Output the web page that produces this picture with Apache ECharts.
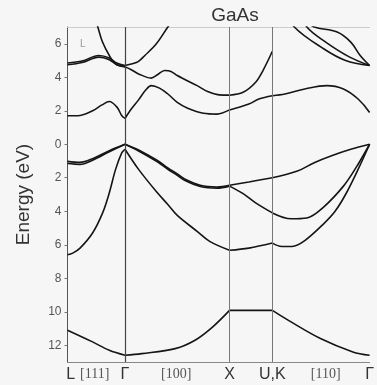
<!DOCTYPE html>
<html>
<head>
<meta charset="utf-8">
<script src="https://cdn.jsdelivr.net/npm/echarts@6/dist/echarts.min.js"></script>
<style>
  html, body { margin: 0; padding: 0; background: #f6f6f6; }
  #chart { width: 377px; height: 385px; }
</style>
</head>
<body>
<div id="chart"></div>
<script>
// k positions along the path L - Γ - X - U,K - Γ
var kTicks = [0.03, 0.26, 0.55, 1.04, 1.55, 1.96, 2.47, 2.89];
var kLabels = ['L', '[111]', 'Γ', '[100]', 'X', 'U,K', '[110]', 'Γ'];
var symPoints = [0.55, 1.55, 1.96];
var energyTicks = [-12, -10, -8, -6, -4, -2, 0, 2, 4, 6];

// bands, [k, energy eV]
var bandS = [[0,-11.1],[0.24,-11.8],[0.40,-12.3],[0.55,-12.6],[0.71,-12.5],[1.03,-12.2],[1.22,-11.7],[1.39,-10.9],[1.55,-9.92],
  [1.96,-9.92],[2.11,-10.5],[2.42,-11.6],[2.73,-12.4],[2.89,-12.6]];
var bandV1 = [[0,-6.6],[0.05,-6.5],[0.12,-6.2],[0.24,-5.3],[0.336,-4.1],[0.40,-2.9],[0.46,-1.5],[0.52,-0.5],[0.55,-0.3],
  [0.68,-1.5],[0.86,-2.9],[0.96,-3.6],[1.05,-4.25],[1.24,-5.2],[1.36,-5.8],[1.55,-6.33],
  [1.735,-6.2],[1.96,-5.9],[2.05,-6.1],[2.15,-6.1],[2.27,-5.75],[2.45,-4.75],[2.56,-4.0],[2.66,-3.0],[2.78,-1.5],[2.89,0]];
var bandV2 = [[0,-1.15],[0.12,-1.2],[0.24,-0.95],[0.40,-0.45],[0.55,0],
  [0.68,-0.4],[0.86,-1.05],[0.96,-1.5],[1.05,-1.85],[1.12,-2.15],[1.27,-2.52],[1.43,-2.62],[1.55,-2.5],
  [1.68,-2.95],[1.80,-3.5],[1.96,-4.1],[2.14,-4.45],[2.29,-4.4],[2.45,-3.75],[2.64,-2.5],[2.76,-1.4],[2.89,0]];
var bandV3 = [[0,-1.02],[0.12,-1.08],[0.24,-0.86],[0.40,-0.38],[0.55,0],
  [0.68,-0.34],[0.86,-0.97],[0.96,-1.42],[1.05,-1.77],[1.12,-2.07],[1.27,-2.45],[1.43,-2.55],[1.55,-2.45],
  [1.735,-2.25],[1.96,-2.0],[2.20,-1.6],[2.36,-1.1],[2.52,-0.7],[2.71,-0.3],[2.89,0]];
var bandC1 = [[0,1.7],[0.12,1.72],[0.24,2.0],[0.33,2.35],[0.40,2.55],[0.475,2.2],[0.52,1.7],[0.55,1.54],
  [0.61,2.1],[0.68,2.65],[0.75,3.25],[0.80,3.5],[0.88,3.35],[0.96,3.0],[1.05,2.5],[1.15,2.15],[1.30,1.85],[1.43,1.8],[1.55,2.05],
  [1.735,2.4],[1.83,2.7],[1.96,2.9],[2.08,3.0],[2.27,3.3],[2.48,3.5],[2.64,3.3],[2.78,2.7],[2.89,1.9]];
var bandC2 = [[0,4.75],[0.14,4.88],[0.30,5.2],[0.40,5.05],[0.47,4.75],[0.55,4.62],
  [0.61,4.45],[0.68,4.2],[0.80,3.95],[0.86,4.15],[0.93,4.4],[0.99,4.35],[1.05,4.1],[1.24,3.5],[1.34,3.15],[1.45,2.95],[1.55,2.93],
  [1.68,3.1],[1.80,3.7],[1.87,4.4],[1.96,5.55]];
var bandC3 = [[0,4.85],[0.14,4.97],[0.30,5.3],[0.40,5.15],[0.47,4.85],[0.55,4.7],
  [0.62,4.8],[0.68,4.95],[0.74,5.3],[0.85,6.0],[0.96,7.0],[1.02,7.5]];
var bandC4 = [[0.26,7.6],[0.29,7.0],[0.335,6.1],[0.40,5.3],[0.46,4.8],[0.55,4.65]];
var bandCA = [[2.10,8.0],[2.17,7.0],[2.45,5.7],[2.66,5.0],[2.89,4.7]];
var bandCB = [[2.22,8.0],[2.29,7.0],[2.47,6.1],[2.70,5.2],[2.89,4.7]];
var bandCC = [[2.30,7.3],[2.36,7.0],[2.58,6.7],[2.71,6.1],[2.80,5.3],[2.89,4.7]];

var bands = [bandS, bandV1, bandV2, bandV3, bandC1, bandC2, bandC3, bandC4, bandCA, bandCB, bandCC];

// cut each band at the symmetry points so the smoothing keeps the kinks
function splitBand(pts) {
  var segs = [], cur = [];
  for (var i = 0; i < pts.length; i++) {
    cur.push(pts[i]);
    if (i > 0 && i < pts.length - 1 && symPoints.indexOf(pts[i][0]) >= 0) {
      segs.push(cur);
      cur = [pts[i]];
    }
  }
  segs.push(cur);
  return segs;
}

var series = [];
bands.forEach(function (b) {
  splitBand(b).forEach(function (seg) {
    series.push({
      type: 'line',
      data: seg,
      smooth: 0.35,
      symbol: 'none',
      silent: true,
      lineStyle: { color: '#151515', width: 1.6 }
    });
  });
});
series[0].markLine = {
  symbol: 'none',
  silent: true,
  label: { show: false },
  lineStyle: { color: '#777', width: 1, type: 'solid' },
  data: [
    { xAxis: symPoints[0], lineStyle: { color: '#444', width: 1.2, type: 'solid' } },
    { xAxis: symPoints[1] },
    { xAxis: symPoints[2] }
  ]
};

var chart = echarts.init(document.getElementById('chart'));
chart.setOption({
  backgroundColor: '#f6f6f6',
  animation: false,
  title: {
    text: 'GaAs',
    left: 230,
    top: 1,
    textAlign: 'center',
    textStyle: { fontFamily: 'Liberation Sans', fontSize: 19, fontWeight: 'normal', color: '#333' }
  },
  graphic: [{
    type: 'text', left: 80, top: 39,
    style: { text: 'L', font: '10px Liberation Sans', fill: '#999' }
  }],
  grid: { left: 67.5, right: 0, top: 27, bottom: 23 },
  xAxis: [{
    type: 'value',
    min: 0,
    max: 2.89,
    splitLine: { show: false },
    axisLine: { onZero: false, lineStyle: { color: '#888' } },
    axisTick: { show: false },
    axisLabel: {
      customValues: kTicks,
      margin: 5,
      color: '#333',
      fontFamily: 'Liberation Sans',
      fontSize: 16,
      formatter: function (v) {
        var i = kTicks.indexOf(v);
        var t = i >= 0 ? kLabels[i] : '';
        return t.charAt(0) === '[' ? '{b|' + t + '}' : t;
      },
      rich: { b: { fontFamily: 'Liberation Serif', fontSize: 14, color: '#555' } }
    }
  }, {
    type: 'value',
    position: 'top',
    min: 0,
    max: 2.89,
    splitLine: { show: false },
    axisLine: { show: true, onZero: false, lineStyle: { color: '#ccc' } },
    axisTick: { show: false },
    axisLabel: { show: false }
  }],
  yAxis: {
    type: 'value',
    min: -13,
    max: 7,
    name: 'Energy (eV)',
    nameLocation: 'middle',
    nameGap: 34,
    nameTextStyle: { fontFamily: 'Liberation Sans', fontSize: 19, color: '#333' },
    splitLine: { show: false },
    axisLine: { show: true, lineStyle: { color: '#555' } },
    axisTick: { customValues: energyTicks, length: 3, lineStyle: { color: '#777' } },
    axisLabel: {
      customValues: energyTicks,
      margin: 6,
      color: '#555',
      fontFamily: 'Liberation Sans',
      fontSize: 12,
      formatter: function (v) { return String(Math.abs(v)); }
    }
  },
  series: series
});
</script>
</body>
</html>
